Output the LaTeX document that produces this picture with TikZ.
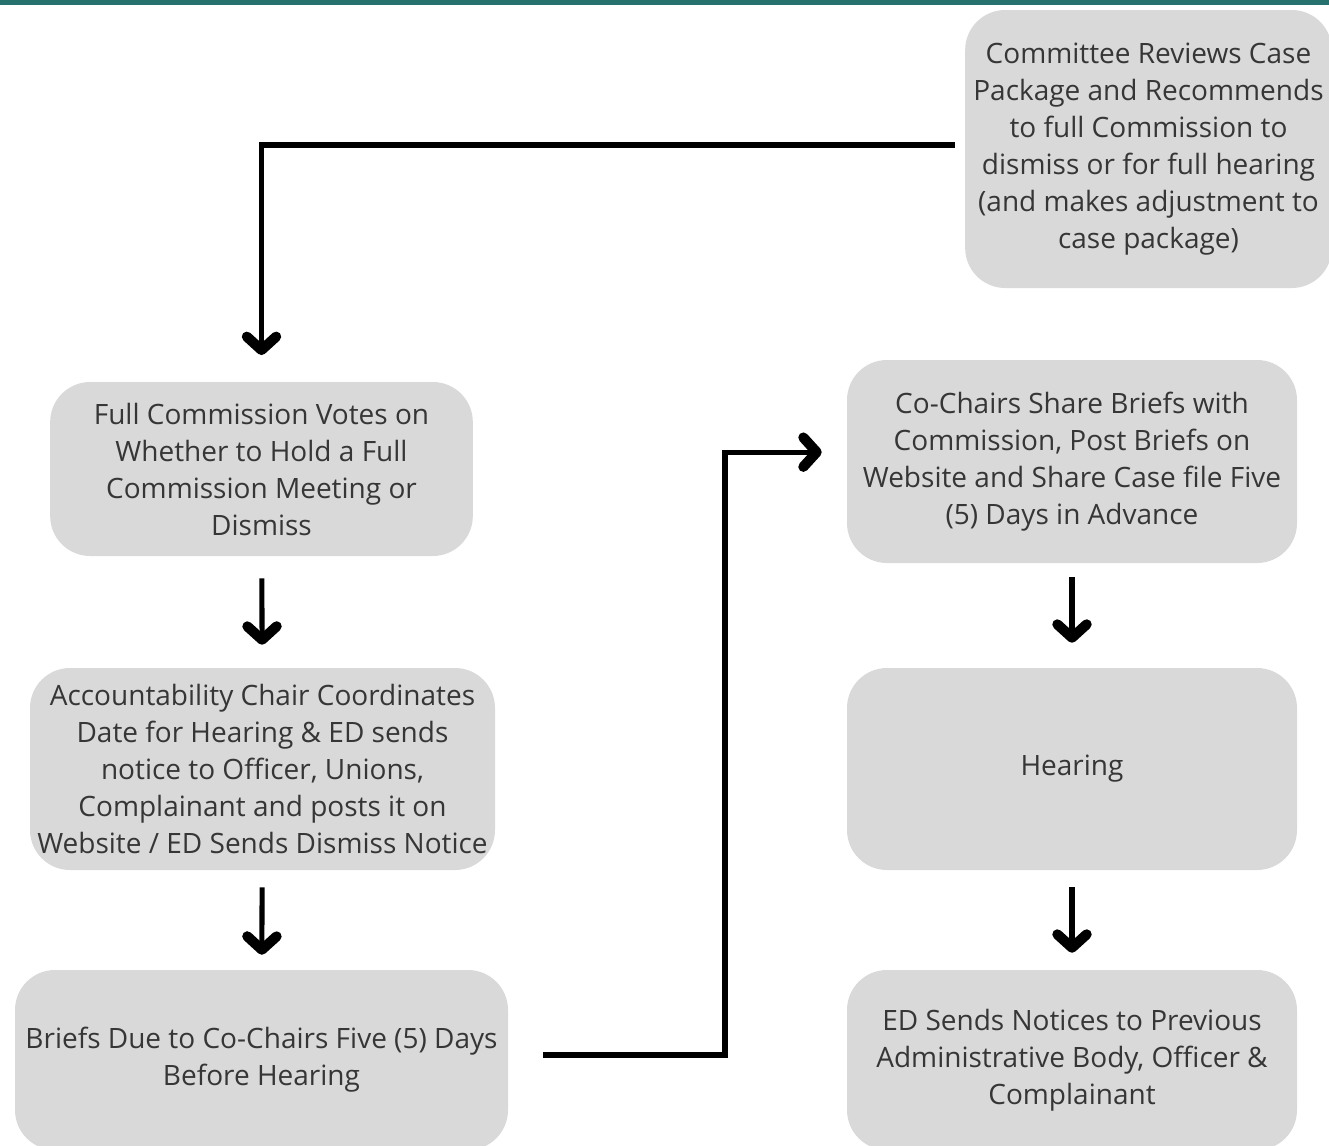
\documentclass[tikz,border=0pt]{standalone}
\usepackage{fontspec}
\setmainfont{Open Sans}
\usepackage{xcolor}
\usetikzlibrary{arrows.meta, positioning}

\definecolor{boxgray}{HTML}{D9D9D9}
\definecolor{inkgray}{HTML}{363636}
\definecolor{topteal}{HTML}{26706E}

\begin{document}
\begin{tikzpicture}[x=0.75pt, y=-0.75pt,
  stage/.style={fill=boxgray, rounded corners=30pt, align=center, text=inkgray,
    font=\fontsize{21}{27.75}\selectfont, inner sep=0pt},
  flow/.style={draw=black, line width=3.8pt,
    -{Straight Barb[length=10pt, width=22pt, line width=0pt 2, round]}}]
  \useasboundingbox (0,0) rectangle (1329,1146);
  \fill[topteal] (0,0) rectangle (1329,5);

  \node (review) [stage, minimum width=275pt, minimum height=208.5pt] at (1148.5,149)
    {Committee Reviews Case\\Package and Recommends\\to full Commission to\\dismiss or for full hearing\\(and makes adjustment to\\case package)};
  \node (vote)   [stage, minimum width=317pt, minimum height=130.5pt] at (261.5,469)
    {Full Commission Votes on\\Whether to Hold a Full\\Commission Meeting or\\Dismiss};
  \node (coord)  [stage, minimum width=348.75pt, minimum height=151.5pt] at (262.5,769)
    {Accountability Chair Coordinates\\Date for Hearing \& ED sends\\notice to Officer, Unions,\\Complainant and posts it on\\Website / ED Sends Dismiss Notice};
  \node (briefs) [stage, minimum width=369.75pt, minimum height=135pt] at (261.5,1060)
    {Briefs Due to Co-Chairs Five (5) Days\\Before Hearing};
  \node (share)  [stage, minimum width=337.5pt, minimum height=152.25pt] at (1072,461.5)
    {Co-Chairs Share Briefs with\\Commission, Post Briefs on\\Website and Share Case file Five\\(5) Days in Advance};
  \node (hear)   [stage, minimum width=337.5pt, minimum height=151.5pt] at (1072,769)
    {Hearing};
  \node (notify) [stage, minimum width=337.5pt, minimum height=135pt] at (1072,1060)
    {ED Sends Notices to Previous\\Administrative Body, Officer \&\\Complainant};

  \coordinate (jog) at (725,700);

  \draw[flow, shorten <=7.5pt, shorten >=20pt] ([yshift=3pt]review.west) -| (vote.north);
  \foreach \a/\b/\s/\e in {vote/coord/16.5/17.25, coord/briefs/12.75/11.25,
                          share/hear/10.5/18.75, hear/notify/12.75/12.75}
    \draw[flow, shorten <=\s pt, shorten >=\e pt] (\a) -- (\b);
  \draw[flow, shorten <=26pt, shorten >=18.75pt] ([yshift=3.75pt]briefs.east) -| (jog) |- ([yshift=7pt]share.west);
\end{tikzpicture}
\end{document}
